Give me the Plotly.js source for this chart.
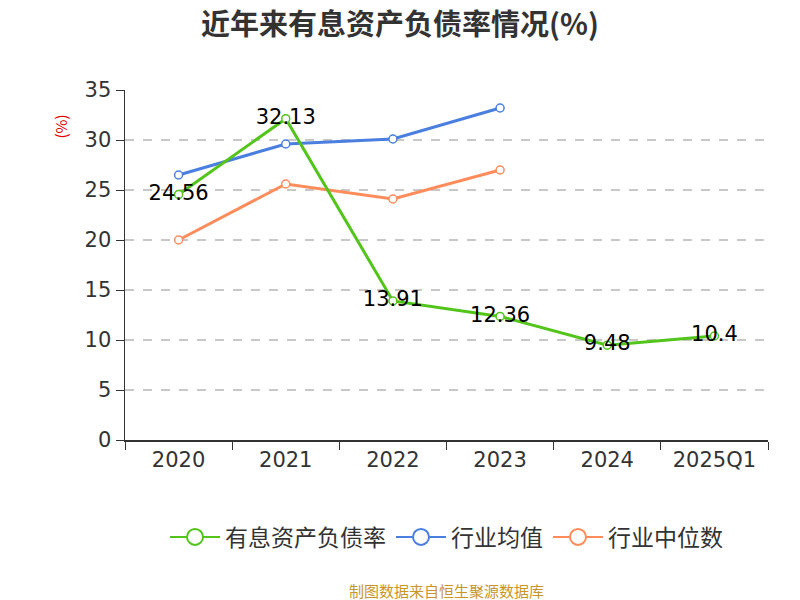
<!DOCTYPE html>
<html>
<head>
<meta charset="utf-8">
<script src="https://cdn.plot.ly/plotly-3.0.1.min.js"></script>
<style>body{margin:0;padding:0;background:#fff;}#chart{width:800px;height:600px;}</style>
</head>
<body>
<div id="chart"></div>
<script>
var categories = ["2020", "2021", "2022", "2023", "2024", "2025Q1"];
var debtRatio = [24.56, 32.13, 13.91, 12.36, 9.48, 10.4];
var industryMean = [26.5, 29.6, 30.1, 33.2];
var industryMedian = [20.0, 25.6, 24.1, 27.0];
var seriesNames = ["有息资产负债率", "行业均值", "行业中位数"];
var colors = ["#52c41a", "#4a7fe0", "#ff8c5a"];
var yTicks = [0, 5, 10, 15, 20, 25, 30, 35];

var font = "'Noto Sans CJK SC', 'Noto Sans', sans-serif";
var numFont = "'DejaVu Sans', 'Noto Sans CJK SC', sans-serif";

function lineTrace(y, i, withText) {
  var t = {
    type: "scatter",
    mode: withText ? "lines+markers+text" : "lines+markers",
    x: categories.slice(0, y.length),
    y: y,
    name: seriesNames[i],
    showlegend: false,
    line: {color: colors[i], width: 3},
    marker: {size: 8, color: "#fff", line: {color: colors[i], width: 1.5}},
    hoverinfo: "x+y"
  };
  if (withText) {
    t.text = y.map(function(v){ return String(v); });
    t.textposition = "middle center";
    t.textfont = {size: 21, color: "#000", family: numFont};
  }
  return t;
}
function legendTrace(i) {
  return {
    type: "scatter",
    mode: "lines+markers",
    x: [null], y: [null],
    name: seriesNames[i],
    line: {color: colors[i], width: 2},
    marker: {size: 20, color: "#fff", line: {color: colors[i], width: 2}},
    hoverinfo: "skip"
  };
}

var data = [
  lineTrace(industryMean, 1, false),
  lineTrace(industryMedian, 2, false),
  lineTrace(debtRatio, 0, true),
  legendTrace(0), legendTrace(1), legendTrace(2)
];

var layout = {
  width: 800, height: 600,
  margin: {l: 125, r: 32, t: 90, b: 160},
  paper_bgcolor: "#fff", plot_bgcolor: "#fff",
  font: {family: font, color: "#333"},
  title: {text: "<b>近年来有息资产负债率情况(%)</b>", x: 0.5, xanchor: "center", y: 0.958, yanchor: "middle",
          font: {size: 29, color: "#333", family: font}},
  xaxis: {
    type: "category", categoryorder: "array", categoryarray: categories,
    range: [-0.5, 5.5],
    showline: true, linecolor: "#333", linewidth: 1.5,
    ticks: "outside", tickson: "boundaries", ticklen: 8, tickcolor: "#333",
    showgrid: false, zeroline: false,
    tickfont: {size: 21, color: "#333", family: numFont}
  },
  yaxis: {
    range: [0, 35], tickvals: yTicks,
    showline: true, linecolor: "#333", linewidth: 1.5,
    ticks: "outside", ticklen: 8, tickcolor: "#333",
    showgrid: true, gridcolor: "#c8c8c8", griddash: "dash", gridwidth: 1.5,
    zeroline: false,
    tickfont: {size: 21, color: "#333", family: numFont}
  },
  showlegend: true,
  legend: {orientation: "h", x: 0.5, xanchor: "center", y: -0.277, yanchor: "middle",
           itemwidth: 50,
           font: {size: 23, color: "#333", family: font}, traceorder: "normal"},
  annotations: [
    {text: "(%)", xref: "paper", yref: "paper", x: -0.1, y: 0.895, xanchor: "center", yanchor: "middle",
     textangle: -90, showarrow: false, font: {size: 15, color: "#e00000", family: font}},
    {text: "制图数据来自恒生聚源数据库", xref: "paper", yref: "paper", x: 0.5, y: -0.429, xanchor: "center", yanchor: "middle",
     showarrow: false, font: {size: 15, color: "#c8962a", family: font}}
  ]
};

Plotly.newPlot("chart", data, layout, {displayModeBar: false, staticPlot: true});
</script>
</body>
</html>
